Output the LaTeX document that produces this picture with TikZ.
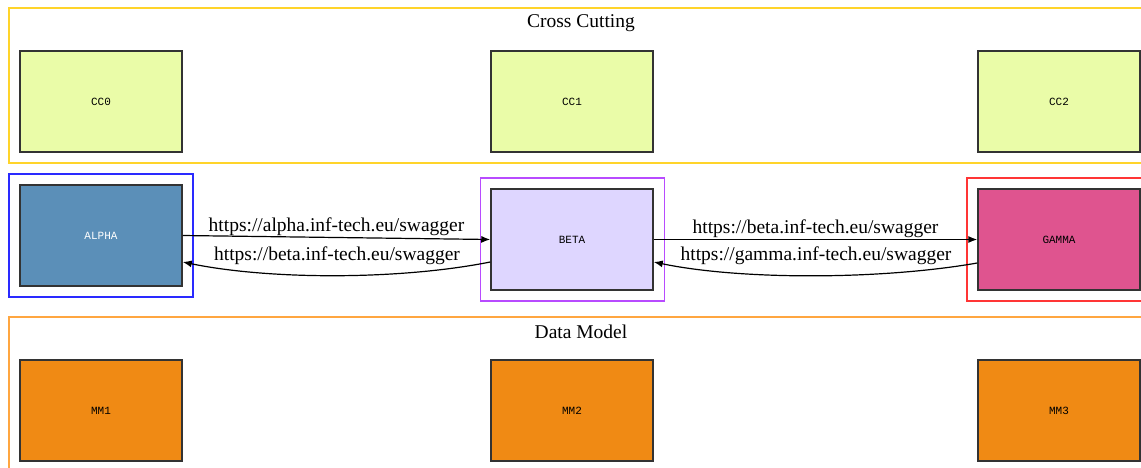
\documentclass[tikz,border=0pt]{standalone}
\usepackage{fontspec}
\setmainfont{Liberation Serif}
\setmonofont{Liberation Mono}
\usetikzlibrary{arrows.meta}

\definecolor{ccfill}{HTML}{EAFCA8}
\definecolor{mmfill}{HTML}{F08A14}
\definecolor{alphafill}{HTML}{5B8FB8}
\definecolor{betafill}{HTML}{DED6FF}
\definecolor{gammafill}{HTML}{DF548F}
\definecolor{boxline}{HTML}{333333}
\definecolor{ccframe}{HTML}{FFD42A}
\definecolor{mmframe}{HTML}{FFA640}
\definecolor{alphaframe}{HTML}{2A2AFF}
\definecolor{betaframe}{HTML}{B84BFF}
\definecolor{gammaframe}{HTML}{FF3535}

\tikzset{
  box/.style = {draw = boxline, line width = 1.5pt, minimum width = 162pt,
    minimum height = 101pt, inner sep = 0pt, font = \fontsize{11}{13}\ttfamily},
  frame/.style = {line width = 1.4pt, minimum width = 184pt,
    minimum height = 123pt, inner sep = 0pt},
  link/.style = {line width = 1.2pt, -{Latex[length = 9pt, width = 7pt]}},
  url/.style = {font = \fontsize{19.5}{22}\selectfont, inner sep = 1pt}
}

\begin{document}
\begin{tikzpicture}[x = 1pt, y = -1pt]
  \useasboundingbox (0,0) rectangle (1141,467);
  \clip (0,0) rectangle (1141,467);

  % draws the layers
  \draw[line width = 1.4pt, draw = ccframe] (1160,8) -- (9,8) -- (9,163) -- (1160,163);
  \draw[line width = 1.4pt, draw = mmframe] (1160,317) -- (9,317) -- (9,480);
  \node[url] (cctitle) at (581,23) {Cross Cutting};
  \node[url] (mmtitle) at (581,332) {Data Model};

  % draws the cross cutting and data model boxes
  \foreach \x [count = \i from 0] in {101, 572, 1059}
    \node[box, fill = ccfill] (cc\i) at (\x,101.5) {CC\i};
  \foreach \x [count = \i] in {101, 572, 1059}
    \node[box, fill = mmfill] (mm\i) at (\x,410.5) {MM\i};

  % draws the services
  \node[frame, draw = alphaframe] (alphagroup) at (101,235.5) {};
  \node[frame, draw = betaframe] (betagroup) at (572.5,239.5) {};
  \node[frame, draw = gammaframe] (gammagroup) at (1059,239.5) {};
  \node[box, fill = alphafill, text = white] (alpha) at (101,235.5) {ALPHA};
  \node[box, fill = betafill] (beta) at (572,239.5) {BETA};
  \node[box, fill = gammafill] (gamma) at (1059,239.5) {GAMMA};

  % draws the links
  \draw[link] (alpha.east) -- node[url, above] {https://alpha.inf-tech.eu/swagger} (beta.west);
  \draw[link] ([yshift = -22.5pt]beta.west) .. controls (400,280) and (270,280)
    .. ([yshift = -26.5pt]alpha.east);
  \node[url] (betaurl) at (337,256) {https://beta.inf-tech.eu/swagger};
  \draw[link] (beta.east) -- node[url, above] {https://beta.inf-tech.eu/swagger} (gamma.west);
  \draw[link] ([yshift = -23.5pt]gamma.west) .. controls (880,280) and (740,280)
    .. ([yshift = -22.5pt]beta.east);
  \node[url] (gammaurl) at (816,256) {https://gamma.inf-tech.eu/swagger};
\end{tikzpicture}
\end{document}
